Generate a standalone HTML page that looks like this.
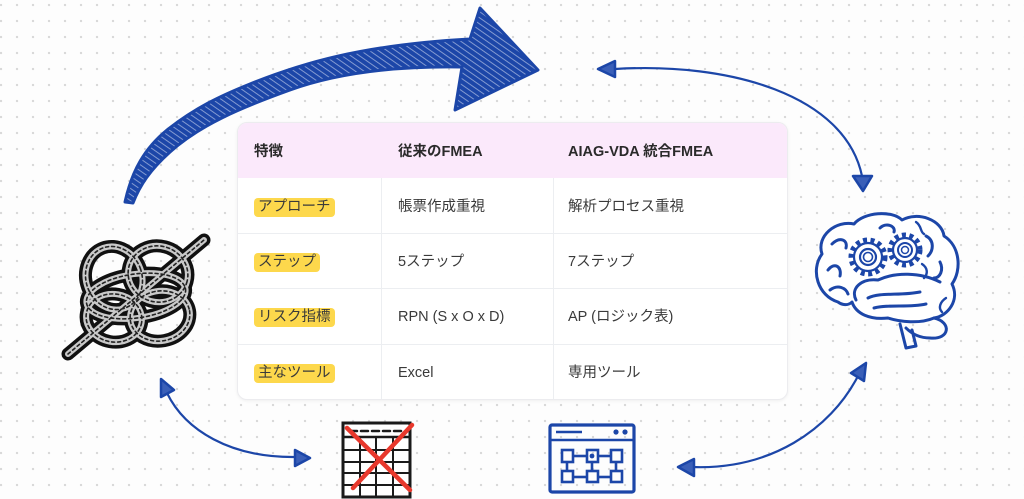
<!DOCTYPE html>
<html><head><meta charset="utf-8">
<style>
html,body{margin:0;padding:0;}
body{width:1024px;height:499px;overflow:hidden;position:relative;background-color:#fdfdfd;
background-image:radial-gradient(circle,#d6d6d6 0.9px,transparent 1.4px);background-size:16px 16px;background-position:-7px -3px;
font-family:"Liberation Sans","Noto Sans CJK JP",sans-serif;}
#tbl{position:absolute;left:237px;top:122px;width:549px;height:276px;background:#fff;border:1px solid #ececef;border-radius:10px;box-shadow:0 1px 3px rgba(0,0,0,0.06);overflow:hidden;}
.hdr{position:absolute;left:0;top:0;width:549px;height:55px;background:#fbe9fb;}
.t{position:absolute;white-space:nowrap;line-height:20px;}
.h{font-weight:bold;font-size:14.5px;color:#2a2a2a;}
.b{font-size:14.5px;color:#3a3a3a;}
.tag{display:inline-block;height:19px;line-height:19px;background:#fdd84c;border-radius:4px;padding:0 4px;}
.hl{position:absolute;left:0;width:549px;height:1px;background:#eceef1;}
.vl{position:absolute;top:55px;width:1px;height:221px;background:#eceef1;}
svg{position:absolute;left:0;top:0;}
</style></head><body>
<svg width="1024" height="499" viewBox="0 0 1024 499">
<defs>
<pattern id="hatch" width="5" height="5" patternUnits="userSpaceOnUse" patternTransform="rotate(-55)">
<rect width="5" height="5" fill="#1c46a8"/>
<rect x="0" y="0" width="1" height="5" fill="#e9eefa" opacity="0.5"/>
</pattern>
</defs>
<!-- big curved arrow -->
<path d="M 125 202 C 132 170, 145 148, 167 130 C 195 108, 220 96, 250 84 C 300 64, 360 45, 470 39 L 480 8 L 538 70 L 455 110 L 462 67 C 400 66, 340 72, 290 90 C 240 108, 200 125, 170 152 C 150 170, 140 185, 133 203 Z" fill="url(#hatch)" stroke="#1c46a8" stroke-width="3" stroke-linejoin="round"/>

<!-- top right double arrow -->
<path d="M 615 69 C 730 62, 845 95, 862 176" fill="none" stroke="#1c46a8" stroke-width="2.2"/>
<path d="M 598 69 L 615 61 L 615 77 Z" fill="#3a5fb8" stroke="#1c46a8" stroke-width="2.5" stroke-linejoin="round"/>
<path d="M 863 191 L 853 176 L 872 176 Z" fill="#3a5fb8" stroke="#1c46a8" stroke-width="2.5" stroke-linejoin="round"/>

<!-- bottom right double arrow -->
<path d="M 858 376 C 830 430, 770 470, 692 467" fill="none" stroke="#1c46a8" stroke-width="2.2"/>
<path d="M 866 363 L 864 381 L 851 373 Z" fill="#3a5fb8" stroke="#1c46a8" stroke-width="2.5" stroke-linejoin="round"/>
<path d="M 678 467 L 694 459 L 694 476 Z" fill="#3a5fb8" stroke="#1c46a8" stroke-width="2.5" stroke-linejoin="round"/>

<!-- bottom left double arrow -->
<path d="M 167 393 C 185 430, 230 458, 296 457" fill="none" stroke="#1c46a8" stroke-width="2.2"/>
<path d="M 161 379 L 174 390 L 161 397 Z" fill="#3a5fb8" stroke="#1c46a8" stroke-width="2.5" stroke-linejoin="round"/>
<path d="M 310 458 L 295 450 L 295 466 Z" fill="#3a5fb8" stroke="#1c46a8" stroke-width="2.5" stroke-linejoin="round"/>

<!-- spreadsheet icon -->
<g stroke="#1a1a1a" fill="none" stroke-linecap="round">
<rect x="343" y="423" width="67" height="74" fill="#fff" stroke-width="3"/>
<line x1="343" y1="437" x2="410" y2="437" stroke-width="2.5"/>
<line x1="350" y1="431" x2="404" y2="431" stroke-width="2.5" stroke-dasharray="7 4"/>
<line x1="360" y1="437" x2="360" y2="497" stroke-width="2"/>
<line x1="376" y1="437" x2="376" y2="497" stroke-width="2"/>
<line x1="393" y1="437" x2="393" y2="497" stroke-width="2"/>
<line x1="343" y1="450" x2="410" y2="450" stroke-width="2"/>
<line x1="343" y1="462" x2="410" y2="462" stroke-width="2"/>
<line x1="343" y1="473" x2="410" y2="473" stroke-width="2"/>
<line x1="343" y1="485" x2="410" y2="485" stroke-width="2"/>
</g>
<g stroke="#e8382c" stroke-width="4.5" stroke-linecap="round">
<line x1="347" y1="428" x2="410" y2="490"/>
<line x1="412" y1="425" x2="353" y2="488"/>
</g>

<!-- browser flow icon -->
<g stroke="#1c46a8" fill="none" stroke-width="2.6">
<rect x="550" y="425" width="84" height="67" rx="2" stroke-width="3.2"/>
<line x1="550" y1="440" x2="634" y2="440"/>
<line x1="556" y1="432" x2="582" y2="432" stroke-width="2.4"/>
<rect x="562" y="450" width="11" height="12"/>
<rect x="587" y="450" width="11" height="12"/>
<rect x="611" y="450" width="11" height="12"/>
<rect x="562" y="471" width="11" height="11"/>
<rect x="587" y="471" width="11" height="11"/>
<rect x="611" y="471" width="11" height="11"/>
<line x1="573" y1="456" x2="587" y2="456"/>
<line x1="598" y1="456" x2="611" y2="456"/>
<line x1="573" y1="477" x2="587" y2="477"/>
<line x1="598" y1="477" x2="611" y2="477"/>
<line x1="567" y1="462" x2="567" y2="471"/>
<line x1="592" y1="462" x2="592" y2="471"/>
<line x1="616" y1="462" x2="616" y2="471"/>
</g>
<circle cx="616" cy="432" r="2.6" fill="#1c46a8"/>
<circle cx="625" cy="432" r="2.6" fill="#1c46a8"/>
<circle cx="592" cy="456" r="2.4" fill="#1c46a8"/>

<!-- knot -->
<g fill="none" stroke-linecap="round">
<g stroke="#111" stroke-width="13">
<line x1="68" y1="354" x2="204" y2="240"/>
<ellipse cx="114" cy="278" rx="28" ry="32" transform="rotate(-20 114 278)"/>
<ellipse cx="158" cy="274" rx="30" ry="28" transform="rotate(15 158 274)"/>
<ellipse cx="114" cy="318" rx="28" ry="24" transform="rotate(10 114 318)"/>
<ellipse cx="160" cy="316" rx="30" ry="25" transform="rotate(-10 160 316)"/>
<ellipse cx="136" cy="296" rx="50" ry="22" transform="rotate(-8 136 296)"/>
</g>
<g stroke="#c9c9c9" stroke-width="6">
<line x1="68" y1="354" x2="204" y2="240"/>
<ellipse cx="114" cy="278" rx="28" ry="32" transform="rotate(-20 114 278)"/>
<ellipse cx="158" cy="274" rx="30" ry="28" transform="rotate(15 158 274)"/>
<ellipse cx="114" cy="318" rx="28" ry="24" transform="rotate(10 114 318)"/>
<ellipse cx="160" cy="316" rx="30" ry="25" transform="rotate(-10 160 316)"/>
<ellipse cx="136" cy="296" rx="50" ry="22" transform="rotate(-8 136 296)"/>
</g>
<g stroke="#222" stroke-width="1.6" stroke-dasharray="3 3">
<line x1="68" y1="354" x2="204" y2="240"/>
<ellipse cx="114" cy="278" rx="28" ry="32" transform="rotate(-20 114 278)"/>
<ellipse cx="158" cy="274" rx="30" ry="28" transform="rotate(15 158 274)"/>
<ellipse cx="114" cy="318" rx="28" ry="24" transform="rotate(10 114 318)"/>
<ellipse cx="160" cy="316" rx="30" ry="25" transform="rotate(-10 160 316)"/>
<ellipse cx="136" cy="296" rx="50" ry="22" transform="rotate(-8 136 296)"/>
</g>
</g>

<!-- brain -->
<g fill="none" stroke="#1c46a8" stroke-width="3" stroke-linejoin="round" stroke-linecap="round">
<path d="M 838 302 C 818 296, 810 270, 822 254 C 816 236, 836 220, 854 224 C 864 212, 892 210, 902 220 C 918 211, 942 220, 944 236 C 960 246, 962 270, 952 284 C 960 300, 948 316, 934 318 C 920 324, 900 322, 888 318 C 870 320, 856 314, 852 302 C 848 306, 842 305, 838 302 Z" fill="#fff"/>
<path d="M 856 300 C 850 288, 862 278, 878 280 C 895 272, 920 272, 940 282"/>
<path d="M 934 318 C 952 322, 950 340, 930 338 C 920 338, 912 334, 906 328"/>
<path d="M 900 324 L 906 348 L 916 346 L 912 330"/>
<path d="M 868 298 C 880 292, 900 296, 920 292"/>
<path d="M 874 308 C 890 304, 908 308, 926 304"/>
<path d="M 828 270 C 834 262, 842 266, 840 276"/>
<path d="M 832 244 C 840 236, 848 240, 846 248"/>
<path d="M 926 236 C 934 240, 934 250, 928 256"/>
<path d="M 940 262 C 944 270, 940 278, 934 278"/>
<path d="M 830 290 C 838 284, 846 288, 848 294"/>
<path d="M 880 228 C 886 222, 896 226, 894 232"/>
<path d="M 916 222 C 922 226, 920 232, 924 234" stroke-width="2.4"/>
<path d="M 946 298 C 940 302, 938 308, 942 312" stroke-width="2.4"/>
<path d="M 922 264 C 928 268, 928 274, 924 278" stroke-width="2.4"/>
</g>
<g fill="none" stroke="#1c46a8">
<circle cx="868" cy="257" r="17" stroke-width="5" stroke-dasharray="4 3.5"/>
<circle cx="868" cy="257" r="14" stroke-width="2.2" fill="#fff"/>
<circle cx="868" cy="257" r="8" stroke-width="2.2"/>
<circle cx="868" cy="257" r="4.5" stroke-width="1.6"/>
<circle cx="905" cy="250" r="15" stroke-width="5" stroke-dasharray="4 3.5"/>
<circle cx="905" cy="250" r="12" stroke-width="2.2" fill="#fff"/>
<circle cx="905" cy="250" r="7" stroke-width="2"/>
<circle cx="905" cy="250" r="3.5" stroke-width="1.5"/>
</g>
</svg>

<div id="tbl">
<div class="hdr"></div>
<div class="hl" style="top:110px"></div>
<div class="hl" style="top:165px"></div>
<div class="hl" style="top:221px"></div>
<div class="vl" style="left:143px"></div>
<div class="vl" style="left:315px"></div>

<div class="t h" style="left:16px;top:19px">特徴</div>
<div class="t h" style="left:160px;top:19px">従来のFMEA</div>
<div class="t h" style="left:330px;top:19px">AIAG-VDA 統合FMEA</div>

<div class="t b" style="left:16px;top:74px"><span class="tag">アプローチ</span></div>
<div class="t b" style="left:160px;top:74px">帳票作成重視</div>
<div class="t b" style="left:330px;top:74px">解析プロセス重視</div>

<div class="t b" style="left:16px;top:129px"><span class="tag">ステップ</span></div>
<div class="t b" style="left:160px;top:129px">5ステップ</div>
<div class="t b" style="left:330px;top:129px">7ステップ</div>

<div class="t b" style="left:16px;top:184px"><span class="tag">リスク指標</span></div>
<div class="t b" style="left:160px;top:184px">RPN (S x O x D)</div>
<div class="t b" style="left:330px;top:184px">AP (ロジック表)</div>

<div class="t b" style="left:16px;top:240px"><span class="tag">主なツール</span></div>
<div class="t b" style="left:160px;top:240px">Excel</div>
<div class="t b" style="left:330px;top:240px">専用ツール</div>
</div>
</body></html>
